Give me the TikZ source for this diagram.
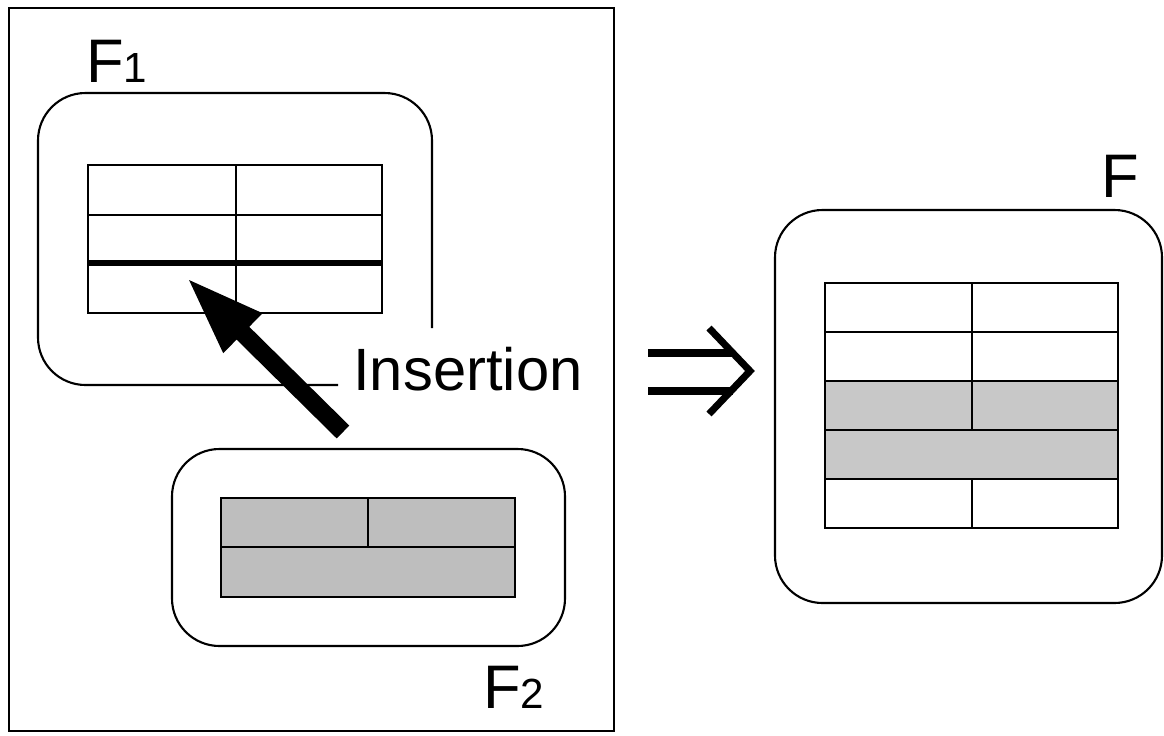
\documentclass[tikz,border=0pt]{standalone}
\usepackage{fontspec}
\setmainfont{Liberation Sans}
\usetikzlibrary{arrows.meta}
\definecolor{grayA}{HTML}{BEBEBE}
\definecolor{grayB}{HTML}{C8C8C8}
\begin{document}
\begin{tikzpicture}[x=0.02cm,y=-0.02cm,
  frameline/.style={line width=1.2pt, rounded corners=0.95cm},
  gridline/.style={line width=1.1pt},
  thickrule/.style={line width=3pt},
  lbl/.style={inner sep=0pt, anchor=base west, font=\fontsize{35}{40}\selectfont},
  bigarrow/.style={line width=0.36cm, -{Triangle[length=1.6cm,width=1cm]}},
  implies/.style={line width=4pt, miter limit=10}
]
\useasboundingbox (0,0) rectangle (1164,735);

% outer frame
\draw[line width=1.5pt] (9,8) rectangle (614,731);

% F1 frame (open at bottom right)
\draw[frameline] (432,328) -- (432,93) -- (38,93) -- (38,385) -- (338,385);
\node[lbl] (F1) at (86,82) {F{\fontsize{24}{28}\selectfont 1}};

% F1 table
\draw[gridline] (88,165) rectangle (382,313);
\draw[gridline] (236,165) -- (236,313);
\draw[gridline] (88,215) -- (382,215);
\draw[thickrule] (88,263) -- (382,263);

% F2 frame
\draw[frameline] (172,449) rectangle (565,646);
\node[lbl] (F2) at (483,708) {F{\fontsize{24}{28}\selectfont 2}};

% F2 table
\fill[grayA] (221,498) rectangle (515,597);
\draw[gridline] (221,498) rectangle (515,597);
\draw[gridline] (221,547) -- (515,547);
\draw[gridline] (368,498) -- (368,547);

% insertion arrow
\coordinate (tail) at (343,432);
\coordinate (tip) at (186,277);
\draw[bigarrow] (tail) -- (tip);
\node[lbl, font=\fontsize{34}{40}\selectfont] (ins) at (353,390) {Insertion};

% implies arrow
\draw[implies] (648,353) -- (733,353);
\draw[implies] (648,391) -- (733,391);
\draw[implies] (709,328) -- (750,371) -- (709,414);

% F frame
\draw[frameline] (775,210) rectangle (1162,603);
\node[lbl] (F) at (1101,197) {F};

% F table
\fill[grayB] (825,381) rectangle (1118,479);
\draw[gridline] (825,283) rectangle (1118,528);
\foreach \yy in {332,381,430,479} \draw[gridline] (825,\yy) -- (1118,\yy);
\draw[gridline] (972,283) -- (972,430);
\draw[gridline] (972,479) -- (972,528);
\end{tikzpicture}
\end{document}
